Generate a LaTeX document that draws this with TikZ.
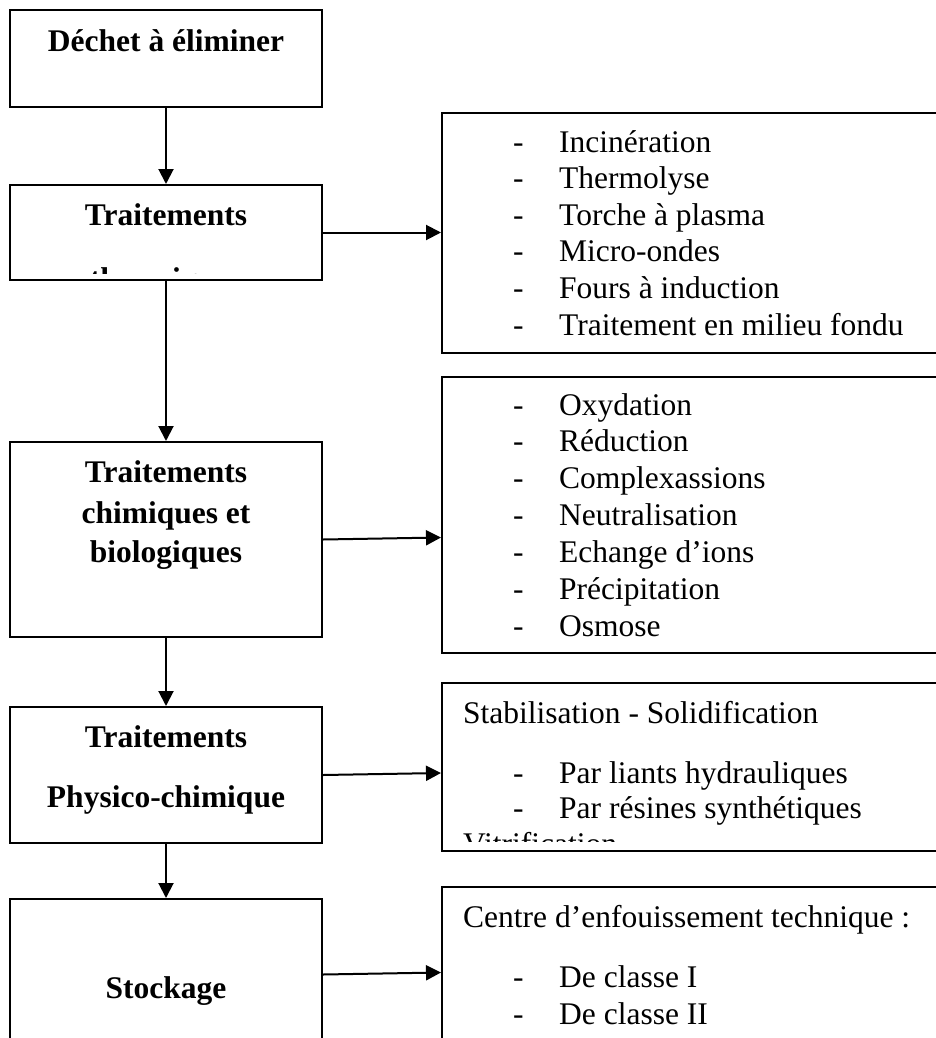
\documentclass[tikz,border=0pt]{standalone}
\usepackage{fontspec}
\setmainfont{Liberation Serif}
\usetikzlibrary{arrows.meta,calc}
\tikzset{
  box/.style={draw, line width=2pt, rectangle, inner sep=0pt},
  lbl/.style={font=\bfseries\fontsize{31.5}{37}\selectfont, anchor=base, inner sep=0pt},
  itm/.style={font=\fontsize{31.5}{37}\selectfont, anchor=base west, inner sep=0pt},
  arr/.style={-{Triangle[length=15pt,width=15pt]}, line width=2pt},
}
\begin{document}
\begin{tikzpicture}[x=1pt,y=-1pt]
\useasboundingbox (0,0) rectangle (936,1038);
\fill[white] (0,0) rectangle (936,1038);
\clip (0,0) rectangle (936,1038);

% left column boxes
\node[box, minimum width=312pt, minimum height=97pt]  (b1) at (166,58.5)  {};
\node[box, minimum width=312pt, minimum height=95pt]  (b2) at (166,232.5) {};
\node[box, minimum width=312pt, minimum height=195pt] (b3) at (166,539.5) {};
\node[box, minimum width=312pt, minimum height=136pt] (b4) at (166,775)   {};
\node[box, minimum width=312pt, minimum height=151pt] (b5) at (166,974.5) {};

% right column boxes
\node[box, minimum width=508pt, minimum height=240pt] (r1) at (696,233) {};
\node[box, minimum width=508pt, minimum height=276pt] (r2) at (696,515) {};
\node[box, minimum width=508pt, minimum height=168pt] (r3) at (696,767) {};
\node[box, minimum width=508pt, minimum height=180pt] (r4) at (696,977) {};

% left labels
\node[lbl] (t1) at (166,52) {Déchet à éliminer};
\node[lbl] (t2) at (166,225) {Traitements};
\begin{scope}
  \clip (b2.north west) rectangle ([yshift=8pt]b2.south east);
  \node[lbl] (t2b) at (166,289) {thermiques};
\end{scope}
\node[lbl] (t3a) at (166,482) {Traitements};
\node[lbl] (t3b) at (166,523) {chimiques et};
\node[lbl] (t3c) at (166,562) {biologiques};
\node[lbl] (t4a) at (166,747) {Traitements};
\node[lbl] (t4b) at (166,807) {Physico-chimique};
\node[lbl] (t5) at (166,998) {Stockage};

% right box 1 items
\foreach \t [count=\i] in {Incinération, Thermolyse, Torche à plasma, Micro-ondes, Fours à induction, Traitement en milieu fondu}{
  \node[itm] (r1d\i) at (513,{152+36.6*(\i-1)}) {-};
  \node[itm] (r1t\i) at (559,{152+36.6*(\i-1)}) {\t};
}
% right box 2 items
\foreach \t [count=\i] in {Oxydation, Réduction, Complexassions, Neutralisation, Echange d’ions, Précipitation, Osmose}{
  \node[itm] (r2d\i) at (513,{415+36.9*(\i-1)}) {-};
  \node[itm] (r2t\i) at (559,{415+36.9*(\i-1)}) {\t};
}
% right box 3
\node[itm] (r3h) at (463,723) {Stabilisation - Solidification};
\node[itm] (r3d1) at (513,783) {-};
\node[itm] (r3t1) at (559,783) {Par liants hydrauliques};
\node[itm] (r3d2) at (513,818) {-};
\node[itm] (r3t2) at (559,818) {Par résines synthétiques};
\begin{scope}
  \clip (r3.north west) rectangle ([yshift=11pt]r3.south east);
  \node[itm] (r3v) at (463,854) {Vitrification};
\end{scope}
% right box 4
\node[itm] (r4h) at (463,927) {Centre d’enfouissement technique :};
\node[itm] (r4d1) at (513,987) {-};
\node[itm] (r4t1) at (559,987) {De classe I};
\node[itm] (r4d2) at (513,1024) {-};
\node[itm] (r4t2) at (559,1024) {De classe II};

% connectors
\draw[arr] (b1.south) -- (b2.north);
\draw[arr] (b2.south) -- (b3.north);
\draw[arr] (b3.south) -- (b4.north);
\draw[arr] (b4.south) -- (b5.north);
\draw[arr] (b2.east) -- (r1.west |- b2.east);
\draw[arr] (b3.east) -- ([yshift=2pt]r2.west |- b3.east);
\draw[arr] (b4.east) -- ([yshift=2pt]r3.west |- b4.east);
\draw[arr] (b5.east) -- ([yshift=2pt]r4.west |- b5.east);
\end{tikzpicture}
\end{document}
